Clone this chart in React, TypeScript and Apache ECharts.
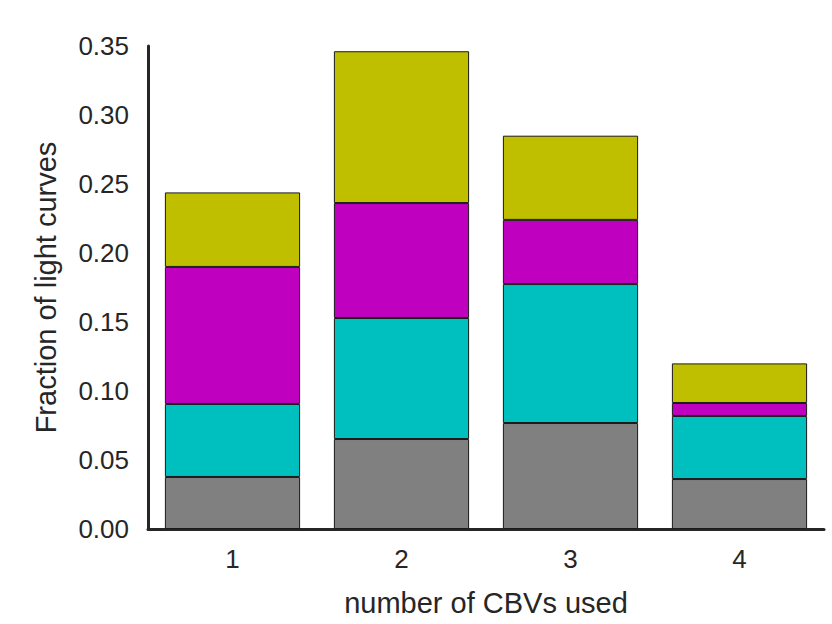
import React, { useEffect, useRef } from "react";
import * as echarts from "echarts";

const categories = ["1", "2", "3", "4"];
const graySeg = [0.0377, 0.0652, 0.0768, 0.0362];
const cyanSeg = [0.0529, 0.0877, 0.1007, 0.0457];
const magentaSeg = [0.0993, 0.0833, 0.0465, 0.0094];
const yellowSeg = [0.054, 0.11, 0.061, 0.0287];
const yTicks = [0, 0.05, 0.1, 0.15, 0.2, 0.25, 0.3, 0.35];

const FONT = "Liberation Sans, Arial, sans-serif";

export default function App() {
  const ref = useRef<HTMLDivElement>(null);
  useEffect(() => {
    if (!ref.current) return;
    const chart = echarts.init(ref.current, null, { renderer: "svg" });
    const mk = (name: string, data: number[], color: string) => ({
      name,
      type: "bar",
      stack: "total",
      data,
      barWidth: "80%",
      itemStyle: { color, borderColor: "#1a1a1a", borderWidth: 1 },
    });
    chart.setOption({
      animation: false,
      grid: { left: 148, right: 8, top: 46, bottom: 95 },
      xAxis: {
        type: "category",
        data: categories,
        axisLine: { lineStyle: { color: "#262626", width: 3 } },
        axisTick: { show: false },
        axisLabel: { fontSize: 26, color: "#262626", fontFamily: FONT, margin: 17 },
        name: "number of CBVs used",
        nameLocation: "middle",
        nameGap: 59,
        nameTextStyle: { fontSize: 29, color: "#262626", fontFamily: FONT },
      },
      yAxis: {
        type: "value",
        min: 0,
        max: 0.35,
        interval: 0.05,
        splitLine: { show: false },
        axisLine: { show: true, lineStyle: { color: "#262626", width: 3 } },
        axisTick: { show: false },
        axisLabel: {
          fontSize: 26,
          color: "#262626",
          fontFamily: FONT,
          margin: 19,
          formatter: (v: number) => {
            const t = yTicks.find((x) => Math.abs(x - v) < 1e-9);
            return (t !== undefined ? t : v).toFixed(2);
          },
        },
        name: "Fraction of light curves",
        nameLocation: "middle",
        nameGap: 88,
        nameTextStyle: { fontSize: 29, color: "#262626", fontFamily: FONT },
      },
      series: [
        mk("gray", graySeg, "#808080"),
        mk("cyan", cyanSeg, "#00bfbf"),
        mk("magenta", magentaSeg, "#bf00bf"),
        mk("yellow", yellowSeg, "#bfbf00"),
      ],
    });
    return () => chart.dispose();
  }, []);
  return <div ref={ref} style={{ width: 832, height: 624, position: "absolute", left: 0, top: 0 }} />;
}
